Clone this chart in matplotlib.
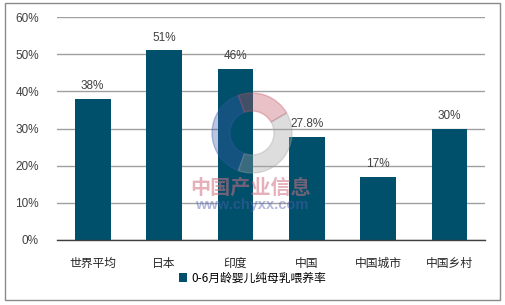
import matplotlib
matplotlib.use("Agg")
import matplotlib.pyplot as plt
from matplotlib.patches import Wedge, Rectangle
from matplotlib.ticker import FuncFormatter

categories = ["世界平均", "日本", "印度", "中国", "中国城市", "中国乡村"]
values = [38, 51, 46, 27.8, 17, 30]
value_labels = ["38%", "51%", "46%", "27.8%", "17%", "30%"]
series_name = "0-6月龄婴儿纯母乳喂养率"
yticks = [0, 10, 20, 30, 40, 50, 60]

plt.rcParams['font.family'] = ['Liberation Sans', 'Noto Sans CJK SC', 'DejaVu Sans']
cjk = ['Noto Sans CJK SC', 'DejaVu Sans']

W, H = 505, 305
fig = plt.figure(figsize=(W / 100, H / 100), dpi=100)
fig.patch.set_facecolor('white')

# outer frame
fig.add_artist(Rectangle((5 / W, 1 - 300 / H), 495 / W, 297 / H, transform=fig.transFigure,
                         fill=False, edgecolor='#8a8a8a', linewidth=1))

ax = fig.add_axes([57 / W, 1 - 240 / H, 428 / W, 223 / H])
bar_color = '#00506B'
x = range(len(categories))
bars = ax.bar(x, values, width=0.5, color=bar_color, zorder=3, label=series_name)
ax.set_xlim(-0.5, len(categories) - 0.5)
ax.set_ylim(0, 60)
ax.set_yticks(yticks)
ax.yaxis.set_major_formatter(FuncFormatter(lambda v, p: f"{int(v)}%"))
ax.grid(axis='y', color='#a0a0a0', linewidth=1, zorder=0)
for s in ['top', 'right', 'left']:
    ax.spines[s].set_visible(False)
ax.spines['bottom'].set_color('#404040')
ax.spines['bottom'].set_linewidth(1)
ax.spines['bottom'].set_zorder(4)
ax.tick_params(axis='y', length=0, labelsize=8.5, colors='#404040', pad=13)
ax.tick_params(axis='x', length=0, pad=12)
ax.set_xticks(list(x))
ax.set_xticklabels(categories, fontfamily=cjk, fontsize=8.5, color='#262626')

for xi, v, lab in zip(x, values, value_labels):
    ax.annotate(lab, (xi, v), xytext=(0, 5), textcoords='offset points',
                ha='center', va='bottom', fontsize=8.5, color='#404040', zorder=5)

# watermark
wax = fig.add_axes([0, 0, 1, 1], facecolor='none')
wax.set_xlim(0, W)
wax.set_ylim(H, 0)
wax.axis('off')
wcx, wcy = 252, 133
wax.add_patch(Wedge((wcx, wcy), 40, 110, 250, width=18, color='#3a5aa8', alpha=0.35))
wax.add_patch(Wedge((wcx, wcy), 40, 250, 330, width=18, color='#c05060', alpha=0.35))
wax.add_patch(Wedge((wcx, wcy), 40, -30, 110, width=18, color='#a0a0a0', alpha=0.35))
wax.text(251, 187, "中国产业信息", ha='center', va='center', fontsize=14.5, fontweight='bold',
         color='#d07080', alpha=0.55, fontfamily=cjk)
wax.text(252, 205, "www.chyxx.com", ha='center', va='center', fontsize=10.5, fontweight='bold',
         color='#5060b0', alpha=0.45)

fig.legend(handles=[bars], labels=[series_name], loc='center', bbox_to_anchor=(0.5, 1 - 278 / H),
           frameon=False, prop={'family': cjk, 'size': 8.5}, handlelength=0.7, handleheight=0.7,
           handletextpad=0.3, borderaxespad=0)

fig.savefig("out.png", dpi=100, facecolor='white')
